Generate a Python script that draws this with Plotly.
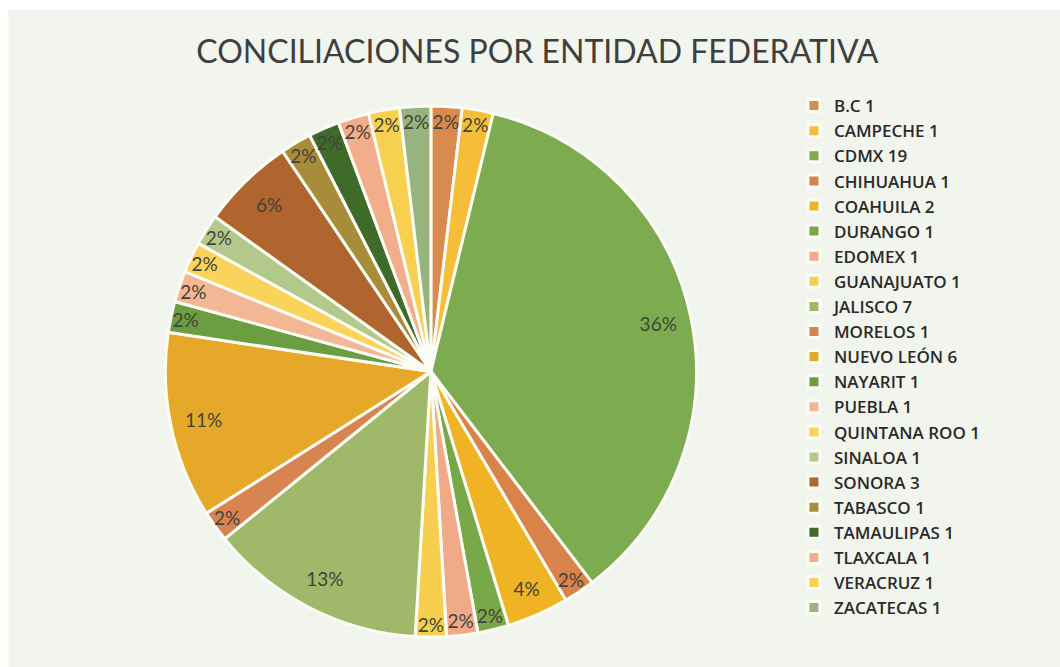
import plotly.graph_objects as go

# Conciliaciones registradas por entidad federativa
estados = [
    "B.C", "CAMPECHE", "CDMX", "CHIHUAHUA", "COAHUILA", "DURANGO", "EDOMEX",
    "GUANAJUATO", "JALISCO", "MORELOS", "NUEVO LEÓN", "NAYARIT", "PUEBLA",
    "QUINTANA ROO", "SINALOA", "SONORA", "TABASCO", "TAMAULIPAS", "TLAXCALA",
    "VERACRUZ", "ZACATECAS",
]
conciliaciones = [1, 1, 19, 1, 2, 1, 1, 1, 7, 1, 6, 1, 1, 1, 1, 3, 1, 1, 1, 1, 1]

colores = [
    "#d98a4e", "#f6be38", "#7dab4f", "#d9824a", "#f0b324", "#78a848", "#f0aa88",
    "#f7cf4e", "#9fb86a", "#d88450", "#e6a828", "#6a9e40", "#f3b796", "#f9d35a",
    "#b3c98c", "#b0642e", "#a88c3a", "#3e6b2a", "#f2ae8a", "#f8d050", "#98b47e",
]

etiquetas = [f"{e} {v}" for e, v in zip(estados, conciliaciones)]

dominio = dict(x=[0.156, 0.657], y=[0.044, 0.842])
fuente = "Lato, 'Liberation Sans', sans-serif"

fig = go.Figure()

# Sectores del pastel
fig.add_trace(go.Pie(
    labels=etiquetas,
    values=conciliaciones,
    sort=False,
    direction="clockwise",
    rotation=0,
    marker=dict(colors=colores, line=dict(color="#fbfcf4", width=3)),
    textinfo="none",
    hoverinfo="label+percent",
    domain=dominio,
))

# Capa transparente en forma de anillo para colocar los porcentajes
# cerca del borde exterior de cada sector
fig.add_trace(go.Pie(
    labels=etiquetas,
    values=conciliaciones,
    sort=False,
    direction="clockwise",
    rotation=0,
    hole=0.75,
    marker=dict(colors=["rgba(0,0,0,0)"] * len(estados), line=dict(width=0)),
    texttemplate="%{percent:.0%}",
    textposition="inside",
    insidetextorientation="horizontal",
    textfont=dict(family=fuente, size=19, color="#434339"),
    hoverinfo="skip",
    showlegend=False,
    domain=dominio,
))

fig.update_layout(
    width=1060,
    height=667,
    margin=dict(l=0, r=0, t=0, b=0),
    paper_bgcolor="#ffffff",
    plot_bgcolor="#f2f5ed",
    uniformtext=dict(mode="show", minsize=19),
    title=dict(
        text="CONCILIACIONES POR ENTIDAD FEDERATIVA",
        x=0.507, xanchor="center",
        y=0.922, yanchor="middle",
        font=dict(family=fuente, size=32, color="#3f3f3f"),
    ),
    legend=dict(
        x=0.749, xanchor="left",
        y=0.868, yanchor="top",
        font=dict(family="'Open Sans', sans-serif", size=17, color="#2a2a2a",
                  weight=600),
        bgcolor="rgba(0,0,0,0)",
        traceorder="normal",
    ),
    shapes=[dict(
        type="rect", xref="paper", yref="paper",
        x0=0.008, x1=1, y0=0, y1=0.985,
        fillcolor="#f2f5ed", line=dict(width=0), layer="below",
    )],
)

fig.write_html("out.html")
